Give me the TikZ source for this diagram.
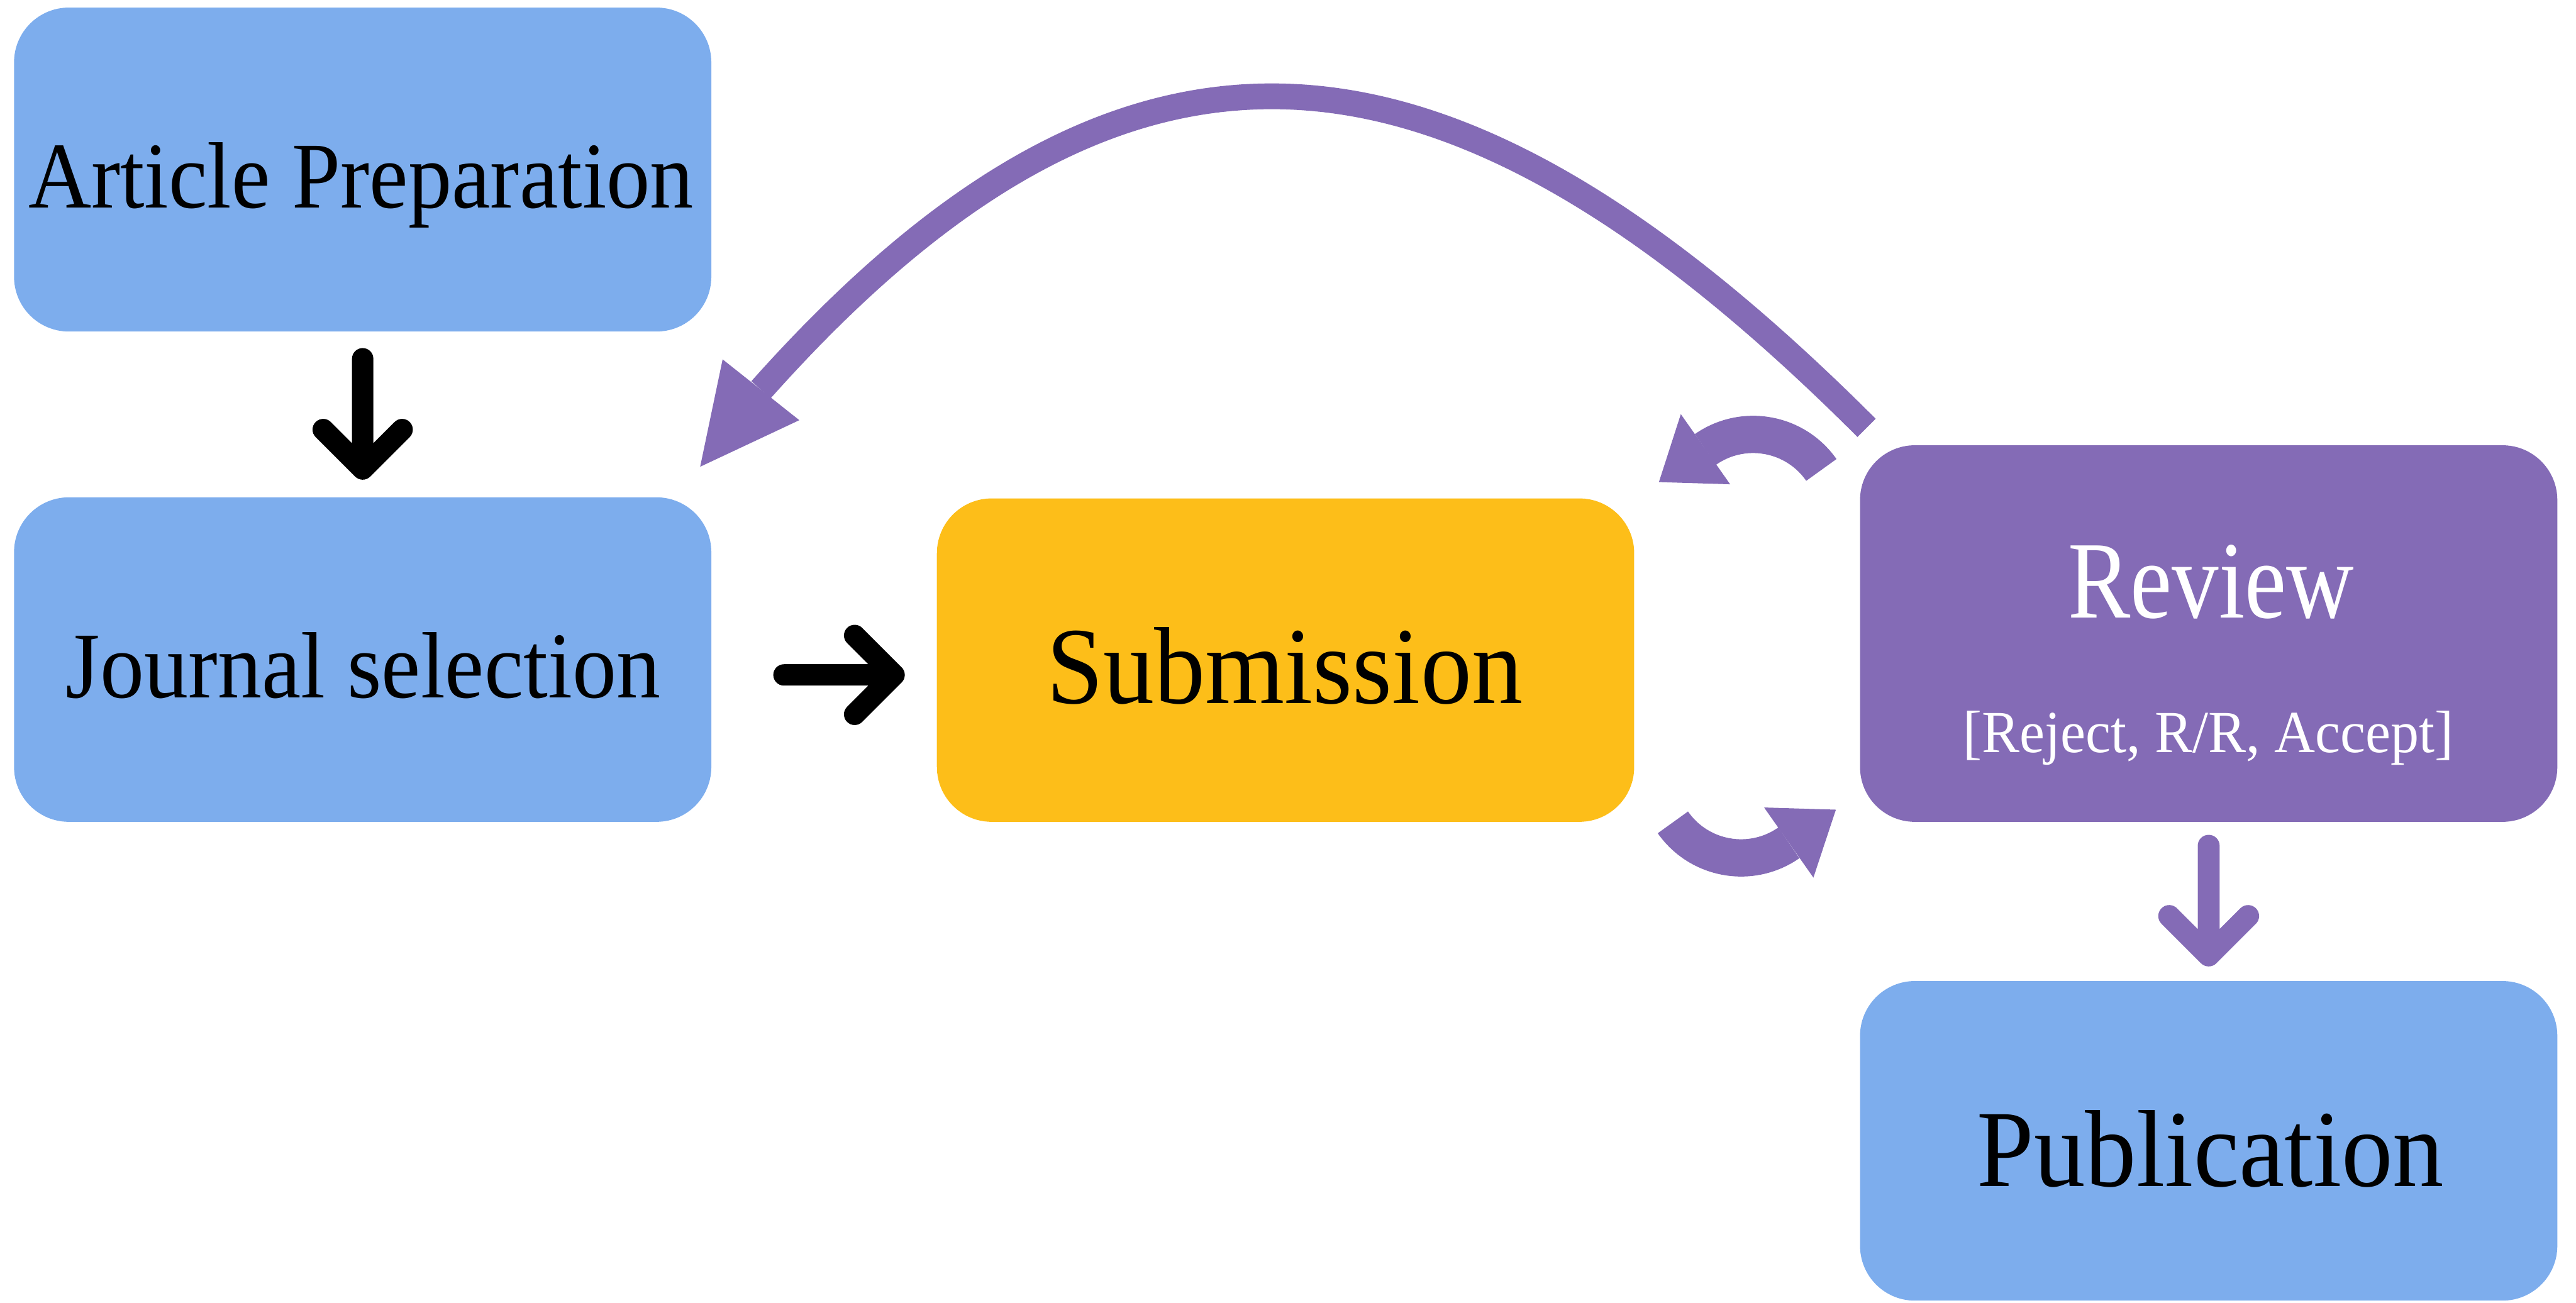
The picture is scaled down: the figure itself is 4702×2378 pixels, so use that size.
\documentclass[tikz,border=0pt]{standalone}
\usepackage{fontspec}
\setmainfont{Liberation Serif}
\usepackage{graphicx}
\usetikzlibrary{calc}
\definecolor{boxblue}{HTML}{7DADED}
\definecolor{boxyellow}{HTML}{FDBE19}
\definecolor{boxpurple}{HTML}{846BB6}
\begin{document}
\begin{tikzpicture}[x=0.01cm,y=-0.01cm,
  card/.style={rounded corners=1cm, inner sep=0pt, minimum width=12.72cm},
  lbl/.style={anchor=base, inner sep=0pt},
  blkarrow/.style={draw=black, line width=0.39cm, line cap=round, line join=round},
  purarrow/.style={draw=boxpurple, line width=0.40cm, line cap=round, line join=round},
  loopline/.style={draw=boxpurple, line width=0.68cm},
  bigline/.style={draw=boxpurple, line width=0.47cm},
  headfill/.style={fill=boxpurple}]
\useasboundingbox (0,0) rectangle (4702,2378);

% boxes
\node[card, fill=boxblue,   minimum height=5.91cm] (art)  at (662,309.5) {};
\node[card, fill=boxblue,   minimum height=5.92cm] (jour) at (662,1204) {};
\node[card, fill=boxyellow, minimum height=5.90cm] (sub)  at (2346.5,1205) {};
\node[card, fill=boxpurple, minimum height=6.87cm] (rev)  at (4031.5,1156.5) {};
\node[card, fill=boxblue,   minimum height=5.83cm] (pub)  at (4031.5,2082.5) {};

% texts
\node[lbl] (tart)  at (659,379)   {\fontsize{48.9}{50}\selectfont\scalebox{0.925}[1]{Article Preparation}};
\node[lbl] (tjour) at (663,1274)  {\fontsize{48.9}{50}\selectfont\scalebox{0.935}[1]{Journal selection}};
\node[lbl] (tsub)  at (2345,1284) {\fontsize{56.9}{58}\selectfont\scalebox{0.93}[1]{Submission}};
\node[lbl, text=white] (trev)  at (4036,1128) {\fontsize{57.2}{58}\selectfont\scalebox{0.85}[1]{Review}};
\node[lbl, text=white] (topt)  at (4031,1373) {\fontsize{31}{32}\selectfont\scalebox{0.948}[1]{[Reject, R/R, Accept]}};
\node[lbl] (tpub)  at (4035,2166) {\fontsize{56.9}{58}\selectfont\scalebox{0.935}[1]{Publication}};

% black arrow article -> journal
\coordinate (a1) at ($(art.south)+(0,49)$);
\coordinate (a2) at ($(jour.north)+(0,-51)$);
\draw[blkarrow] (a1) -- (a2) ($(a2)+(-72,-72)$) -- (a2) -- ($(a2)+(72,-72)$);

% black arrow journal -> submission
\coordinate (b1) at (1431,1232);
\coordinate (b2) at (1632,1232);
\draw[blkarrow] (b1) -- (b2) ($(b2)+(-72,-72)$) -- (b2) -- ($(b2)+(-72,72)$);

% purple arrow review -> publication
\coordinate (c1) at ($(rev.south)+(0,43)$);
\coordinate (c2) at ($(pub.north)+(0,-46)$);
\draw[purarrow] (c1) -- (c2) ($(c2)+(-72,-72)$) -- (c2) -- ($(c2)+(72,-72)$);

% loop arrow review -> submission (top)
\coordinate (lt) at (3200,945);
\draw[loopline] ($(lt)+(-35:152)$) arc[start angle=-35, end angle=-125, radius=152];
\coordinate (ltA) at (3068,756);
\coordinate (ltB) at (3028,880);
\coordinate (ltC) at (3158,884);
\fill[headfill] (ltA) -- (ltB) -- (ltC) -- cycle;

% loop arrow submission -> review (bottom)
\coordinate (lb) at (3178,1414);
\draw[loopline] ($(lb)+(-215:152)$) arc[start angle=-215, end angle=-305, radius=152];
\coordinate (lbA) at (3220,1474);
\coordinate (lbB) at (3351,1478);
\coordinate (lbC) at (3310,1602);
\fill[headfill] (lbA) -- (lbB) -- (lbC) -- cycle;

% big curved arrow review -> journal selection
\coordinate (g1) at (3407,781);
\coordinate (g2) at (1389,711.5);
\draw[bigline] (g1) .. controls (2629,3) and (2050,-30) .. (g2);
\coordinate (gA) at (1319,656);
\coordinate (gB) at (1278,852);
\coordinate (gC) at (1459,767);
\fill[headfill] (gA) -- (gB) -- (gC) -- cycle;
\end{tikzpicture}
\end{document}
